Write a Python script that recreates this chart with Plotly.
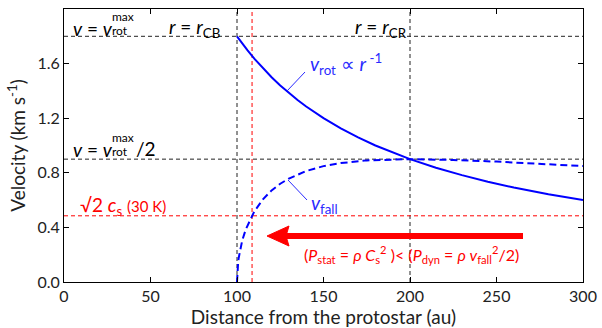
import plotly.graph_objects as go

# ---------------- data ----------------
r_rot = [100, 103, 106, 110, 115, 120, 125, 130, 135, 140, 150, 160, 170, 180, 190, 200, 215, 230, 245, 260, 280, 300]
v_rot = [1.800, 1.748, 1.698, 1.636, 1.565, 1.500, 1.440, 1.385, 1.333, 1.286, 1.200, 1.125, 1.059, 1.000,
         0.947, 0.900, 0.837, 0.783, 0.735, 0.692, 0.643, 0.600]

r_fall = [100, 100.3, 100.7, 101, 102, 103, 105, 108, 110, 115, 120, 125, 130, 140, 150, 160, 175, 200, 225, 250, 275, 300]
v_fall = [0.000, 0.098, 0.150, 0.178, 0.249, 0.303, 0.383, 0.471, 0.517, 0.606, 0.671, 0.720, 0.758, 0.813,
          0.849, 0.871, 0.891, 0.900, 0.894, 0.882, 0.866, 0.849]

r_cb, r_cr = 100, 200            # black dashed verticals
v_max, v_half = 1.80, 0.90       # black dashed horizontals
v_cs = 0.485                     # red dashed horizontal (sqrt2 cs at 30 K)
r_cs = 108.7                     # red dashed vertical

x_ticks = [0, 50, 100, 150, 200, 250, 300]
y_ticks = [0.0, 0.4, 0.8, 1.2, 1.6, 2.0]

# ---------------- layout helpers ----------------
W, H = 602, 328
L, R, T, B = 64, 583, 9, 282
FONT = "Lato"
BLUE = "#0000ff"
TBLUE = "#2a2aff"
RED = "#ff0000"

def px2x(px):
    return (px - L) / (R - L) * 300

def px2y(py):
    return (B - py) / (B - T) * 2.0

fig = go.Figure()
fig.add_trace(go.Scatter(x=r_rot, y=v_rot, mode="lines", line=dict(color=BLUE, width=2),
                         hoverinfo="skip", showlegend=False))
fig.add_trace(go.Scatter(x=r_fall, y=v_fall, mode="lines", line=dict(color=BLUE, width=2, dash="7px,4px"),
                         hoverinfo="skip", showlegend=False))

dash_black = dict(color="#222222", width=1, dash="4px,3px")
dash_red = dict(color=RED, width=1, dash="4px,3px")
shapes = []
for v in (v_max, v_half):
    shapes.append(dict(type="line", xref="x", yref="y", x0=0, x1=300, y0=v, y1=v, line=dash_black, layer="below"))
for r in (r_cb, r_cr):
    shapes.append(dict(type="line", xref="x", yref="y", x0=r, x1=r, y0=0, y1=2, line=dash_black, layer="below"))
shapes.append(dict(type="line", xref="x", yref="y", x0=0, x1=300, y0=v_cs, y1=v_cs, line=dash_red, layer="below"))
shapes.append(dict(type="line", xref="x", yref="y", x0=r_cs, x1=r_cs, y0=0, y1=2, line=dash_red, layer="below"))

# leader lines
shapes.append(dict(type="line", x0=px2x(305), y0=px2y(72), x1=px2x(287), y1=px2y(91), line=dict(color=TBLUE, width=1)))
shapes.append(dict(type="line", x0=px2x(288), y0=px2y(180), x1=px2x(307), y1=px2y(200), line=dict(color=TBLUE, width=1)))

# red arrow
shapes.append(dict(type="line", x0=px2x(284), y0=px2y(236), x1=px2x(523), y1=px2y(236), line=dict(color=RED, width=6)))
shapes.append(dict(type="path",
                   path=f"M {px2x(267)},{px2y(236)} L {px2x(289)},{px2y(226)} L {px2x(286)},{px2y(236)} L {px2x(289)},{px2y(246)} Z",
                   fillcolor=RED, line=dict(color=RED, width=1)))

fig.update_layout(shapes=shapes)

def ann(px, py, text, size, color="black", xanchor="left"):
    fig.add_annotation(x=px2x(px), y=px2y(py), xref="x", yref="y", text=text, showarrow=False,
                       xanchor=xanchor, yanchor="middle", font=dict(family=FONT, size=size, color=color))

# v = v_rot^max
ann(71, 28, "<i>v</i> = <i>v</i>", 19)
ann(110, 16, "max", 12)
ann(110, 30, "rot", 12)
# r = r_CB
ann(222, 28, "<i>r</i> = <i>r</i><sub>CB</sub>", 19, xanchor="right")
# r = r_CR
ann(409, 28, "<i>r</i> = <i>r</i><sub>CR</sub>", 19, xanchor="right")
# v = v_rot^max/2
ann(71, 149, "<i>v</i> = <i>v</i>", 19)
ann(110, 137, "max", 12)
ann(110, 151, "rot", 12)
ann(134, 148, "/2", 19)
# sqrt2 cs
ann(78, 206, "√2 <i>c</i><sub>s</sub> <span style='font-size:15px'>(30 K)</span>", 19, RED)
# v_rot label
ann(308, 64, "<i>v</i><sub>rot</sub> ∝ <i>r</i><sup> -1</sup>", 19, TBLUE)
# v_fall label
ann(309, 204, "<i>v</i><sub>fall</sub>", 19, TBLUE)
# pressure text
ann(302, 254, "(<i>P</i><sub>stat</sub> = <i>ρ C</i><sub>s</sub><sup>2</sup> )< (<i>P</i><sub>dyn</sub> = <i>ρ v</i><sub>fall</sub><sup>2</sup>/2)", 16, RED)

axis_common = dict(showline=True, linecolor="black", linewidth=1, mirror="ticks", ticks="inside", ticklen=5,
                   tickcolor="black", showgrid=False, zeroline=False, automargin=False,
                   tickfont=dict(family=FONT, size=16, color="#222222"))
fig.update_xaxes(range=[0, 300], tickvals=x_ticks, ticktext=[str(t) for t in x_ticks],
                 title=dict(text="Distance from the protostar (au)", font=dict(family=FONT, size=19, color="#222222"), standoff=2),
                 **axis_common)
fig.update_yaxes(range=[0, 2], tickvals=y_ticks, ticktext=[f"{t:.1f}" for t in y_ticks],
                 title=dict(text="Velocity (km s<sup>-1</sup>)", font=dict(family=FONT, size=19, color="#222222"), standoff=6),
                 **axis_common)

fig.update_layout(width=W, height=H, margin=dict(l=L, r=W - R, t=T, b=H - B, autoexpand=False),
                  paper_bgcolor="white", plot_bgcolor="white", font=dict(family=FONT))

fig.write_html("out.html", config={"displayModeBar": False},
               post_script="document.body.style.margin='0';document.body.style.padding='0';document.body.style.overflow='hidden';")
